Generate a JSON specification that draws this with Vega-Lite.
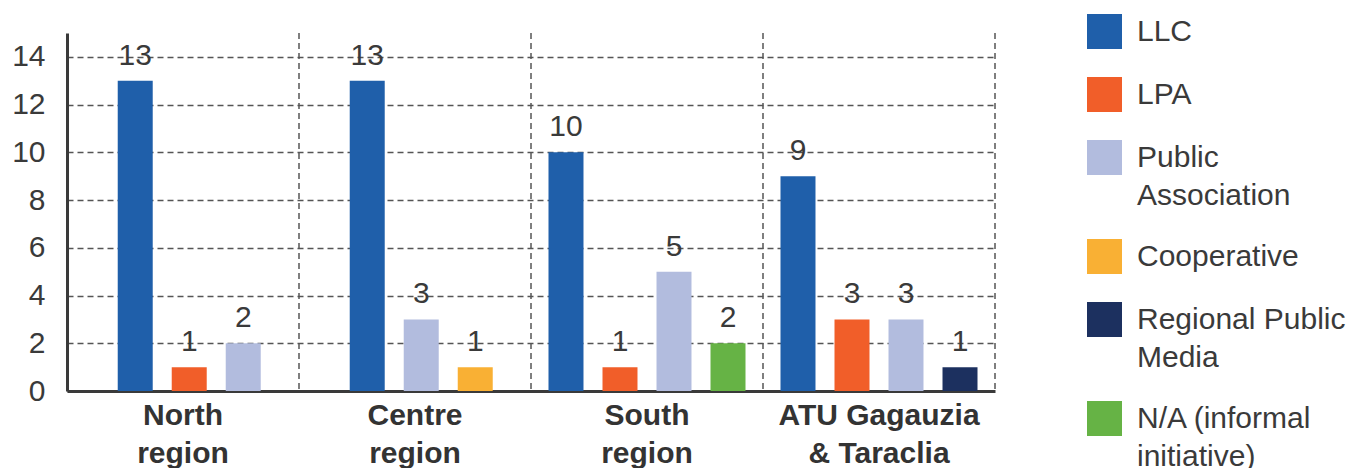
{
  "$schema": "https://vega.github.io/schema/vega-lite/v6.json",
  "width": 928,
  "height": 358,
  "autosize": {"type": "none"},
  "padding": {"left": 67, "top": 33, "right": 355, "bottom": 77},
  "background": "white",
  "config": {
    "view": {"stroke": null},
    "font": "Liberation Sans",
    "legend": {"padding": 0}
  },
  "data": {
    "values": [
      {"region": "North region", "type": "LLC", "count": 13},
      {"region": "North region", "type": "LPA", "count": 1},
      {"region": "North region", "type": "Public Association", "count": 2},
      {"region": "Centre region", "type": "LLC", "count": 13},
      {"region": "Centre region", "type": "Public Association", "count": 3},
      {"region": "Centre region", "type": "Cooperative", "count": 1},
      {"region": "South region", "type": "LLC", "count": 10},
      {"region": "South region", "type": "LPA", "count": 1},
      {"region": "South region", "type": "Public Association", "count": 5},
      {"region": "South region", "type": "N/A (informal initiative)", "count": 2},
      {"region": "ATU Gagauzia & Taraclia", "type": "LLC", "count": 9},
      {"region": "ATU Gagauzia & Taraclia", "type": "LPA", "count": 3},
      {"region": "ATU Gagauzia & Taraclia", "type": "Public Association", "count": 3},
      {"region": "ATU Gagauzia & Taraclia", "type": "Regional Public Media", "count": 1}
    ]
  },
  "transform": [
    {"joinaggregate": [{"op": "count", "as": "n"}], "groupby": ["region"]},
    {"window": [{"op": "row_number", "as": "slot"}], "groupby": ["region"]}
  ],
  "encoding": {
    "x": {
      "field": "region",
      "type": "nominal",
      "sort": null,
      "scale": {"paddingInner": 0, "paddingOuter": 0},
      "axis": {
        "title": null,
        "labelAngle": 0,
        "ticks": false,
        "domain": true,
        "domainColor": "#3a3a3a",
        "domainWidth": 3,
        "labelFontSize": 30,
        "labelFontWeight": "bold",
        "labelColor": "#333333",
        "labelPadding": 9,
        "labelLineHeight": 38,
        "labelLimit": 400,
        "labelExpr": "datum.label == 'ATU Gagauzia & Taraclia' ? ['ATU Gagauzia', '& Taraclia'] : split(datum.label, ' ')"
      }
    }
  },
  "layer": [
    {
      "transform": [{"aggregate": [{"op": "count", "as": "k"}], "groupby": ["region"]}],
      "mark": {"type": "rule", "color": "#555555", "strokeWidth": 1.5, "strokeDash": [6, 4]},
      "encoding": {
        "x": {"field": "region", "type": "nominal", "sort": null, "bandPosition": 1}
      }
    },
    {
      "transform": [{"filter": "datum.n == 4"}],
      "encoding": {
        "xOffset": {
          "field": "slot",
          "type": "ordinal",
          "scale": {"paddingInner": 0.352, "paddingOuter": 0.324}
        },
        "y": {
          "field": "count",
          "type": "quantitative",
          "scale": {"domain": [0, 15], "nice": false},
          "axis": {
            "title": null,
            "values": [0, 2, 4, 6, 8, 10, 12, 14],
            "ticks": false,
            "domain": true,
            "domainColor": "#3a3a3a",
            "domainWidth": 3,
            "labelFontSize": 30,
            "labelColor": "#3a3a3a",
            "labelPadding": 22,
            "grid": true,
            "gridColor": "#555555",
            "gridWidth": 1.5,
            "gridDash": [6, 4]
          }
        }
      },
      "layer": [
        {
          "mark": {"type": "bar"},
          "encoding": {
            "color": {
              "field": "type",
              "type": "nominal",
              "scale": {
                "domain": ["LLC", "LPA", "Public Association", "Cooperative", "Regional Public Media", "N/A (informal initiative)"],
                "range": ["#1f5faa", "#f15e29", "#b2bcde", "#f9b034", "#1c305f", "#66b345"]
              },
              "legend": {
                "title": null,
                "orient": "none",
                "legendX": 1020,
                "legendY": -19,
                "symbolType": "square",
                "symbolSize": 1225,
                "symbolStrokeWidth": 0,
                "labelFontSize": 30,
                "labelColor": "#3a3a3a",
                "labelOffset": 15,
                "labelLimit": 400,
                "labelBaseline": "middle",
                "rowPadding": 28,
                "encode": {"labels": {"update": {"lineHeight": {"value": 38}}}},
                "labelExpr": "datum.label == 'Public Association' ? ['Public', 'Association'] : datum.label == 'Regional Public Media' ? ['Regional Public', 'Media'] : datum.label == 'N/A (informal initiative)' ? ['N/A (informal', 'initiative)'] : datum.label"
              }
            }
          }
        },
        {
          "mark": {"type": "text", "baseline": "alphabetic", "dy": -16, "fontSize": 30, "color": "#3a3a3a"},
          "encoding": {"text": {"field": "count", "type": "quantitative"}}
        }
      ]
    },
    {
      "transform": [{"filter": "datum.n == 3"}],
      "encoding": {
        "xOffset": {
          "field": "slot",
          "type": "ordinal",
          "scale": {"paddingInner": 0.352, "paddingOuter": 0.824, "align": 0.57}
        },
        "y": {"field": "count", "type": "quantitative"}
      },
      "layer": [
        {
          "mark": {"type": "bar"},
          "encoding": {"color": {"field": "type", "type": "nominal"}}
        },
        {
          "mark": {"type": "text", "baseline": "alphabetic", "dy": -16, "fontSize": 30, "color": "#3a3a3a"},
          "encoding": {"text": {"field": "count", "type": "quantitative"}}
        }
      ]
    }
  ],
  "resolve": {"scale": {"xOffset": "independent"}}
}
